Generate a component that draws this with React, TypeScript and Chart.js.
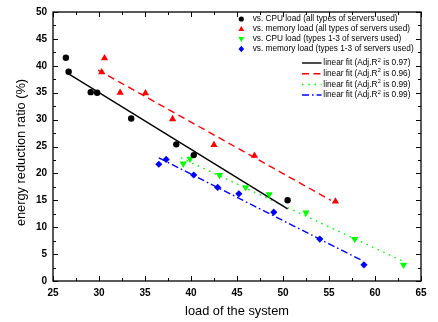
import React, { useEffect, useRef } from "react";
import { Chart, registerables } from "chart.js";

Chart.register(...registerables);

// ---- data ----
const cpuAllX = [26.4, 26.7, 29.1, 29.8, 33.5, 38.4, 40.3, 50.5];
const cpuAllY = [41.5, 38.9, 35.1, 35.0, 30.2, 25.4, 23.4, 15.0];
const memAllX = [30.6, 30.3, 32.3, 35.05, 38.0, 42.5, 46.9, 55.7];
const memAllY = [41.4, 38.8, 35.0, 34.9, 30.1, 25.3, 23.3, 14.8];
const cpu13X = [39.15, 39.9, 43.1, 45.95, 48.5, 52.5, 57.8, 63.1];
const cpu13Y = [21.8, 22.7, 19.7, 17.4, 16.1, 12.7, 7.8, 3.0];
const mem13X = [36.5, 37.3, 40.3, 42.9, 45.2, 49.0, 54.0, 58.8];
const mem13Y = [21.7, 22.6, 19.7, 17.4, 16.2, 12.8, 7.8, 3.0];

const fitCpuAllX = [26.7, 50.5];
const fitCpuAllY = [38.5, 13.4];
const fitMemAllX = [29.9, 55.2];
const fitMemAllY = [39.2, 15.0];
const fitCpu13X = [38.9, 63.0];
const fitCpu13Y = [22.9, 3.7];
const fitMem13X = [36.5, 58.6];
const fitMem13Y = [22.9, 3.8];

const seriesLabels = [
  "vs. CPU load (all types of servers used)",
  "vs. memory load (all types of servers used)",
  "vs. CPU load (types 1-3 of servers used)",
  "vs. memory load (types 1-3 of servers used)",
];
const fitR2 = ["0.97", "0.96", "0.99", "0.99"];

const xTicksMin = 25;
const xTicksMax = 65;
const yTicksMin = 0;
const yTicksMax = 50;
const tickStep = 5;

const xTitle = "load of the system";
const yTitle = "energy reduction ratio (%)";

const colors = ["#000000", "#ff0000", "#00ff00", "#0000ff"];
const dashes: number[][] = [[], [7, 4.5], [1.6, 4.6], [7, 3, 1.6, 3]];

const pts = (xs: number[], ys: number[]) => xs.map((x, i) => ({ x, y: ys[i] }));

function drawMarker(ctx: CanvasRenderingContext2D, kind: number, x: number, y: number, r: number) {
  ctx.beginPath();
  if (kind === 0) {
    ctx.arc(x, y, r, 0, Math.PI * 2);
  } else if (kind === 1) {
    ctx.moveTo(x, y - r * 1.1);
    ctx.lineTo(x + r * 1.05, y + r * 0.75);
    ctx.lineTo(x - r * 1.05, y + r * 0.75);
  } else if (kind === 2) {
    ctx.moveTo(x, y + r * 1.1);
    ctx.lineTo(x + r * 1.05, y - r * 0.75);
    ctx.lineTo(x - r * 1.05, y - r * 0.75);
  } else {
    ctx.moveTo(x, y - r * 1.15);
    ctx.lineTo(x + r * 1.0, y);
    ctx.lineTo(x, y + r * 1.15);
    ctx.lineTo(x - r * 1.0, y);
  }
  ctx.closePath();
  ctx.fill();
}

const decorPlugin = {
  id: "decor",
  afterDraw(chart: any) {
    const { ctx, chartArea } = chart;
    const { left, right, top, bottom } = chartArea;
    const xs = chart.scales.x;
    const ys = chart.scales.y;
    ctx.save();
    // frame
    ctx.strokeStyle = "#000";
    ctx.lineWidth = 1.3;
    ctx.strokeRect(left, top, right - left, bottom - top);
    // ticks inward on all four sides
    ctx.lineWidth = 1;
    ctx.beginPath();
    for (let v = xTicksMin; v <= xTicksMax + 1e-9; v += tickStep / 2) {
      const major = Math.abs((v - xTicksMin) % tickStep) < 1e-6;
      const len = major ? 5 : 3;
      const px = Math.round(xs.getPixelForValue(v)) + 0.5;
      ctx.moveTo(px, bottom);
      ctx.lineTo(px, bottom - len);
      ctx.moveTo(px, top);
      ctx.lineTo(px, top + len);
    }
    for (let v = yTicksMin; v <= yTicksMax + 1e-9; v += tickStep / 2) {
      const major = Math.abs((v - yTicksMin) % tickStep) < 1e-6;
      const len = major ? 5 : 3;
      const py = Math.round(ys.getPixelForValue(v)) + 0.5;
      ctx.moveTo(left, py);
      ctx.lineTo(left + len, py);
      ctx.moveTo(right, py);
      ctx.lineTo(right - len, py);
    }
    ctx.stroke();

    // axis titles
    ctx.fillStyle = "#000";
    ctx.font = '12.8px "Liberation Sans", Arial, sans-serif';
    ctx.textAlign = "center";
    ctx.textBaseline = "middle";
    ctx.fillText(xTitle, (left + right) / 2, 311.5);
    ctx.save();
    ctx.translate(21, 152.5);
    ctx.rotate(-Math.PI / 2);
    ctx.fillText(yTitle, 0, 0);
    ctx.restore();

    // legend
    ctx.font = '8.25px "Liberation Sans", Arial, sans-serif';
    ctx.textAlign = "left";
    ctx.textBaseline = "middle";
    const rowY = [19, 29, 39, 49];
    seriesLabels.forEach((lab, i) => {
      ctx.fillStyle = colors[i];
      drawMarker(ctx, i, 241.3, rowY[i], i === 0 ? 2.6 : 2.8);
      ctx.fillStyle = "#000";
      ctx.fillText(lab, 252.7, rowY[i]);
    });
    const fitY = [63, 73.8, 84.5, 95];
    fitR2.forEach((r2, i) => {
      ctx.strokeStyle = colors[i];
      ctx.lineWidth = 1.4;
      ctx.setLineDash(dashes[i]);
      ctx.beginPath();
      ctx.moveTo(302, fitY[i]);
      ctx.lineTo(321.5, fitY[i]);
      ctx.stroke();
      ctx.setLineDash([]);
      ctx.fillStyle = "#000";
      ctx.font = '8.25px "Liberation Sans", Arial, sans-serif';
      const a = "linear fit (Adj.R";
      let x = 323.3;
      ctx.fillText(a, x, fitY[i]);
      x += ctx.measureText(a).width;
      ctx.font = '5.5px "Liberation Sans", Arial, sans-serif';
      ctx.fillText("2", x + 0.3, fitY[i] - 3);
      x += ctx.measureText("2").width + 0.6;
      ctx.font = '8.25px "Liberation Sans", Arial, sans-serif';
      ctx.fillText(" is " + r2 + ")", x, fitY[i]);
    });
    ctx.restore();
  },
};

export default function App() {
  const ref = useRef<HTMLCanvasElement | null>(null);
  useEffect(() => {
    if (!ref.current) return;
    const pointSets = [
      { data: pts(cpuAllX, cpuAllY), style: "circle", rot: 0, r: 3.2 },
      { data: pts(memAllX, memAllY), style: "triangle", rot: 0, r: 4.2 },
      { data: pts(cpu13X, cpu13Y), style: "triangle", rot: 180, r: 4.2 },
      { data: pts(mem13X, mem13Y), style: "rectRot", rot: 0, r: 3.6 },
    ];
    const fitSets = [
      pts(fitCpuAllX, fitCpuAllY),
      pts(fitMemAllX, fitMemAllY),
      pts(fitCpu13X, fitCpu13Y),
      pts(fitMem13X, fitMem13Y),
    ];
    const datasets: any[] = [];
    pointSets.forEach((p, i) => {
      datasets.push({
        label: seriesLabels[i],
        data: p.data,
        showLine: false,
        pointStyle: p.style,
        rotation: p.rot,
        pointRadius: p.r,
        backgroundColor: colors[i],
        borderColor: colors[i],
        borderWidth: 0,
      });
    });
    fitSets.forEach((d, i) => {
      datasets.push({
        label: "linear fit (Adj.R² is " + fitR2[i] + ")",
        data: d,
        showLine: true,
        pointRadius: 0,
        borderColor: colors[i],
        borderWidth: 1.4,
        borderDash: dashes[i],
        fill: false,
      });
    });
    const chart = new Chart(ref.current, {
      type: "scatter",
      data: { datasets },
      options: {
        responsive: false,
        animation: false,
        layout: { padding: { top: 7, right: 17, left: 0, bottom: 0 } },
        plugins: { legend: { display: false }, tooltip: { enabled: false } },
        scales: {
          x: {
            type: "linear",
            min: xTicksMin,
            max: xTicksMax,
            grid: { display: false, drawTicks: false },
            border: { display: false },
            ticks: {
              stepSize: tickStep,
              padding: 6,
              color: "#000",
              font: { family: '"Liberation Sans", Arial, sans-serif', size: 10, weight: "bold" },
              maxRotation: 0,
            },
            afterFit: (s: any) => {
              s.height = 41;
            },
          },
          y: {
            type: "linear",
            min: yTicksMin,
            max: yTicksMax,
            grid: { display: false, drawTicks: false },
            border: { display: false },
            ticks: {
              stepSize: tickStep,
              padding: 6,
              color: "#000",
              font: { family: '"Liberation Sans", Arial, sans-serif', size: 10, weight: "bold" },
            },
            afterFit: (s: any) => {
              s.width = 53;
            },
          },
        },
      } as any,
      plugins: [decorPlugin],
    });
    return () => chart.destroy();
  }, []);
  return (
    <div style={{ position: "absolute", left: 0, top: 0, width: 438, height: 322, background: "#fff" }}>
      <canvas ref={ref} width={438} height={322} style={{ display: "block" }} />
    </div>
  );
}
